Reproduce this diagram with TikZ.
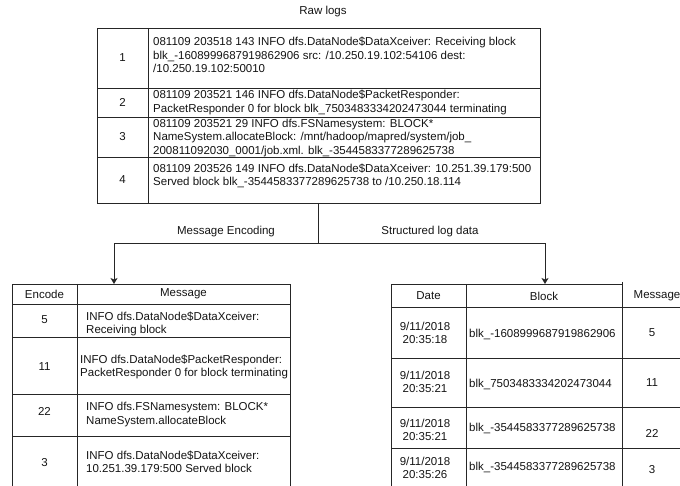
\documentclass[tikz,border=0pt]{standalone}
\usepackage{fontspec}
\setmainfont{Liberation Sans}
\usetikzlibrary{arrows.meta}
\begin{document}
\begin{tikzpicture}[x=1pt,y=-1pt,
  tline/.style={draw=black!85, line width=0.9pt},
  tbox/.style={draw=black!85, line width=0.9pt, anchor=north west, inner sep=0, outer sep=0},
  txt/.style={font=\fontsize{11.5}{13.2}\selectfont, text=black!92, inner sep=0, align=center},
  ltxt/.style={txt, align=left, anchor=west},
  arr/.style={draw=black!85, line width=0.9pt, -{Stealth[length=6pt,width=7pt,inset=1.5pt]}}]
\useasboundingbox (0,0) rectangle (680,486);
\clip (0,0) rectangle (680,486);

% ---------- raw log table ----------
\node[txt] (title) at (323,12) {Raw logs};
\node[tbox, minimum width=443, minimum height=175] (raw) at (97,28) {};
\draw[tline] (148,28) -- (148,203);
\foreach \yy in {88,117,157} \draw[tline] (97,\yy) -- (540,\yy);

\node[txt] (n1) at (122.5,58) {1};
\node[txt] (n2) at (122.5,102.5) {2};
\node[txt] (n3) at (122.5,137) {3};
\node[txt] (n4) at (122.5,180) {4};

\node[ltxt] (l1) at (153,55) {081109 203518 143 INFO dfs.DataNode\$DataXceiver: Receiving block\\blk\_-1608999687919862906 src: /10.250.19.102:54106 dest:\\/10.250.19.102:50010};
\node[ltxt] (l2) at (153,102.5) {081109 203521 146 INFO dfs.DataNode\$PacketResponder:\\PacketResponder 0 for block blk\_7503483334202473044 terminating};
\node[ltxt] (l3) at (153,138) {081109 203521 29 INFO dfs.FSNamesystem: BLOCK*\\NameSystem.allocateBlock: /mnt/hadoop/mapred/system/job\_\\200811092030\_0001/job.xml. blk\_-3544583377289625738};
\node[ltxt] (l4) at (153,176) {081109 203526 149 INFO dfs.DataNode\$DataXceiver: 10.251.39.179:500\\Served block blk\_-3544583377289625738 to /10.250.18.114};

% ---------- connectors ----------
\coordinate (encin) at (114,284);
\coordinate (strin) at (545,284);
\coordinate (split) at (318.5,243);
\draw[tline] (raw.south) -- (split);
\draw[arr] (split) -| (encin);
\draw[arr] (split) -| (strin);
\node[txt] (lenc) at (226,232) {Message Encoding};
\node[txt] (lstr) at (430,232) {Structured log data};

% ---------- message encoding table ----------
\node[tbox, minimum width=278, minimum height=230] (enc) at (12,284) {};
\draw[tline] (77,284) -- (77,520);
\foreach \yy in {304,337,394,436} \draw[tline] (12,\yy) -- (290,\yy);

\node[txt] (eh1) at (44.5,294) {Encode};
\node[txt] (eh2) at (183.5,294) {Message};
\node[txt] (e1) at (44.5,320) {5};
\node[txt] (e2) at (44.5,367) {11};
\node[txt] (e3) at (44.5,411) {22};
\node[txt] (e4) at (44.5,463) {3};
\node[ltxt] (m1) at (86,324) {INFO dfs.DataNode\$DataXceiver:\\Receiving block};
\node[ltxt] (m2) at (80,367) {INFO dfs.DataNode\$PacketResponder:\\PacketResponder 0 for block terminating};
\node[ltxt] (m3) at (86,414.5) {INFO dfs.FSNamesystem: BLOCK*\\NameSystem.allocateBlock};
\node[ltxt] (m4) at (86,462) {INFO dfs.DataNode\$DataXceiver:\\10.251.39.179:500 Served block};

% ---------- structured log table ----------
\draw[tline] (391,520) -- (391,284) -- (622,284);
\draw[tline] (466,284) -- (466,520);
\draw[tline] (622,282) -- (622,520);
\foreach \yy in {307,358,407,448} \draw[tline] (391,\yy) -- (690,\yy);

\node[txt] (sh1) at (428.5,296) {Date};
\node[txt] (sh2) at (544,296) {Block};
\node[txt] (sh3) at (657,296) {Message};

\node[txt] (d1) at (425,333) {9/11/2018\\20:35:18};
\node[txt] (d2) at (425,382) {9/11/2018\\20:35:21};
\node[txt] (d3) at (425,429.5) {9/11/2018\\20:35:21};
\node[txt] (d4) at (425,468) {9/11/2018\\20:35:26};

\node[ltxt] (b1) at (469,334) {blk\_-1608999687919862906};
\node[ltxt] (b2) at (469,384) {blk\_7503483334202473044};
\node[ltxt] (b3) at (469,428) {blk\_-3544583377289625738};
\node[ltxt] (b4) at (469,467) {blk\_-3544583377289625738};

\node[txt] (c1) at (652,333) {5};
\node[txt] (c2) at (652,383) {11};
\node[txt] (c3) at (652,433) {22};
\node[txt] (c4) at (652,470) {3};
\end{tikzpicture}
\end{document}
